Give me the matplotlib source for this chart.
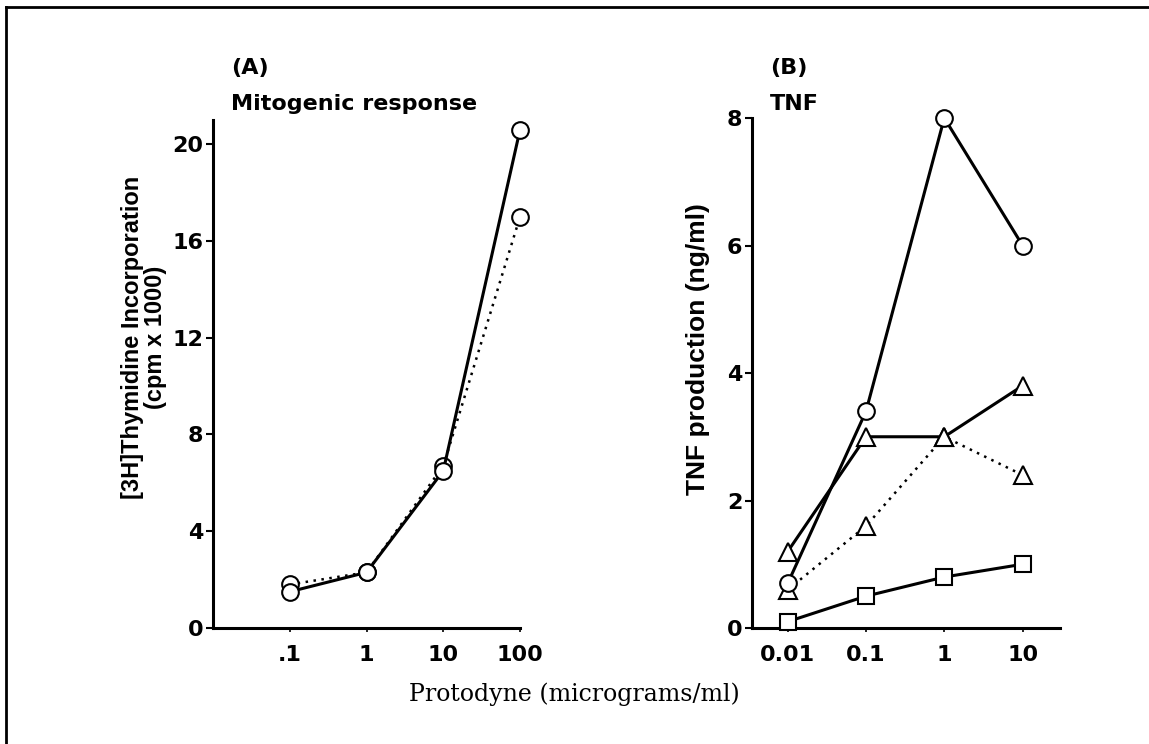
import numpy as np
import matplotlib.pyplot as plt
from matplotlib.lines import Line2D

# panel A: mitogenic response
dose_a = [0.1, 1, 10, 100]
thym_solid = [1.5, 2.3, 6.5, 20.6]
thym_dotted = [1.8, 2.3, 6.7, 17.0]
xt_a = [0.1, 1, 10, 100]
xt_a_lab = [".1", "1", "10", "100"]
yt_a = [0, 4, 8, 12, 16, 20]

# panel B: TNF
dose_b = [0.01, 0.1, 1, 10]
tnf_circle = [0.7, 3.4, 8.0, 6.0]
tnf_tri_solid = [1.2, 3.0, 3.0, 3.8]
tnf_tri_dotted = [0.6, 1.6, 3.0, 2.4]
tnf_square = [0.1, 0.5, 0.8, 1.0]
xt_b = [0.01, 0.1, 1, 10]
xt_b_lab = ["0.01", "0.1", "1", "10"]
yt_b = [0, 2, 4, 6, 8]

plt.rcParams["font.family"] = ["DejaVu Sans"]
plt.rcParams["font.weight"] = "bold"
lab_font = ["Liberation Sans", "DejaVu Sans"]

fig = plt.figure(figsize=(11.49, 7.44), dpi=100)
axA = fig.add_axes([0.1854, 0.1559, 0.2672, 0.6828])
axB = fig.add_axes([0.6545, 0.1559, 0.2680, 0.6855])

mk = dict(markerfacecolor="white", markeredgecolor="black", markeredgewidth=1.5,
          color="black", clip_on=False, zorder=3)
dot = (0, (1.0, 2.2))

axA.plot(dose_a, thym_dotted, linestyle=dot, lw=1.8, marker="o", ms=12, **mk)
axA.plot(dose_a, thym_solid, linestyle="-", lw=2.2, marker="o", ms=12, **mk)
axA.set_xscale("log")
axA.set_xlim(0.01, 100)
axA.set_ylim(0, 21)
axA.set_xticks(xt_a)
axA.set_xticklabels(xt_a_lab)
axA.set_yticks(yt_a)
axA.minorticks_off()
axA.set_ylabel("[3H]Thymidine Incorporation\n(cpm x 1000)", fontsize=17, fontweight="bold",
               family=lab_font, linespacing=1.0)
axA.yaxis.set_label_coords(-0.15, 0.573)
axA.text(0.059, 1.09, "(A)", transform=axA.transAxes, fontsize=16, fontweight="bold", ha="left", va="baseline")
axA.text(0.059, 1.02, "Mitogenic response", transform=axA.transAxes, fontsize=16, fontweight="bold",
         ha="left", va="baseline")

axB.plot(dose_b, tnf_tri_dotted, linestyle=dot, lw=1.8, marker="^", ms=13, **mk)
axB.plot(dose_b, tnf_tri_solid, linestyle="-", lw=2.2, marker="^", ms=13, **mk)
axB.plot(dose_b, tnf_circle, linestyle="-", lw=2.2, marker="o", ms=12, **mk)
axB.plot(dose_b, tnf_square, linestyle="-", lw=2.2, marker="s", ms=11, **mk)
axB.set_xscale("log")
axB.set_xlim(0.0035, 30)
axB.set_ylim(0, 8)
axB.set_xticks(xt_b)
axB.set_xticklabels(xt_b_lab)
axB.set_yticks(yt_b)
axB.minorticks_off()
axB.set_ylabel("TNF production (ng/ml)", fontsize=19, fontweight="bold", family=lab_font)
axB.yaxis.set_label_coords(-0.136, 0.547)
axB.text(0.058, 1.086, "(B)", transform=axB.transAxes, fontsize=16, fontweight="bold", ha="left", va="baseline")
axB.text(0.058, 1.016, "TNF", transform=axB.transAxes, fontsize=16, fontweight="bold", ha="left", va="baseline")

for ax in (axA, axB):
    for s in ("top", "right"):
        ax.spines[s].set_visible(False)
    for s in ("left", "bottom"):
        ax.spines[s].set_linewidth(2.2)
    ax.tick_params(axis="y", direction="out", length=5, width=1.5, labelsize=16, pad=2)
    ax.tick_params(axis="x", direction="out", length=3, width=1.2, labelsize=16, pad=9)
    for lab in ax.get_xticklabels() + ax.get_yticklabels():
        lab.set_fontweight("bold")

fig.text(0.5, 0.067, "Protodyne (micrograms/ml)", fontsize=17, family=["DejaVu Serif"],
         fontweight="normal", ha="center", va="center")

# outer frame (top and left edges)
fig.add_artist(Line2D([0.005, 1.0], [0.99, 0.99], transform=fig.transFigure, color="black", lw=2))
fig.add_artist(Line2D([0.005, 0.005], [0.0, 0.99], transform=fig.transFigure, color="black", lw=2))

fig.savefig("out.png", dpi=100, facecolor="white")
